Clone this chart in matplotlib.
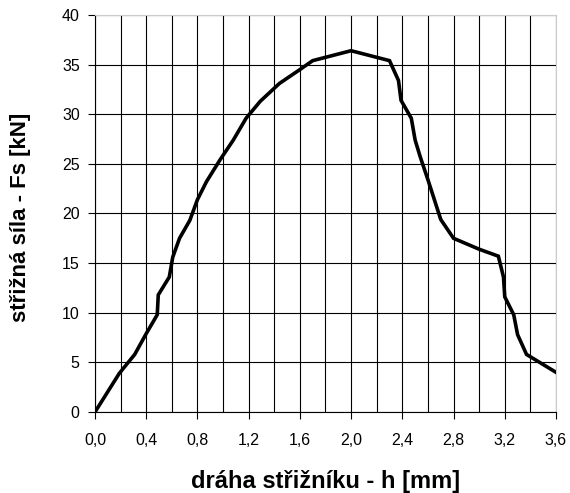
import matplotlib.pyplot as plt
from matplotlib.ticker import MultipleLocator, FuncFormatter

plt.rcParams['font.family'] = ['Liberation Sans', 'DejaVu Sans']

# draha strizniku h [mm] a strizna sila Fs [kN]
h = [0.0, 0.19, 0.31, 0.40, 0.486, 0.494, 0.58, 0.607, 0.66, 0.74, 0.80, 0.87, 0.976,
     1.08, 1.18, 1.29, 1.44, 1.60, 1.70, 2.00, 2.30, 2.37, 2.39, 2.47, 2.50, 2.54, 2.60,
     2.70, 2.80, 3.00, 3.15, 3.19, 3.20, 3.27, 3.30, 3.37, 3.60]
fs = [0.0, 3.9, 5.8, 7.9, 9.8, 11.8, 13.6, 15.6, 17.5, 19.3, 21.4, 23.2, 25.4,
      27.4, 29.6, 31.3, 33.1, 34.5, 35.4, 36.4, 35.4, 33.4, 31.4, 29.6, 27.4, 25.7, 23.4,
      19.4, 17.5, 16.4, 15.7, 13.6, 11.6, 9.8, 7.8, 5.8, 4.0]

fig = plt.figure(figsize=(5.7, 4.93), dpi=100)
ax = fig.add_axes([0.1667, 0.1643, 0.8087, 0.8053])

ax.plot(h, fs, color='black', lw=2.6, solid_joinstyle='miter', zorder=3)

ax.set_xlim(0, 3.6)
ax.set_ylim(0, 40)
ax.xaxis.set_major_locator(MultipleLocator(0.4))
ax.xaxis.set_minor_locator(MultipleLocator(0.2))
ax.yaxis.set_major_locator(MultipleLocator(5))
ax.xaxis.set_major_formatter(FuncFormatter(lambda v, p: f'{v:.1f}'.replace('.', ',')))

ax.grid(which='both', axis='x', color='black', lw=0.8)
ax.grid(which='major', axis='y', color='black', lw=0.8)
ax.tick_params(which='minor', length=0)
ax.tick_params(which='major', length=5, width=0.8, labelsize=11.5, colors='black')
ax.tick_params(axis='x', pad=10)
ax.tick_params(axis='y', pad=6)

for s in ['top', 'right']:
    ax.spines[s].set_color('#cccccc')
for s in ['left', 'bottom']:
    ax.spines[s].set_color('black')
    ax.spines[s].set_linewidth(0.8)

ax.set_xlabel('dráha střižníku - h [mm]', fontsize=17, fontweight='bold', va='center')
ax.set_ylabel('střižná síla - Fs [kN]', fontsize=16, fontweight='bold', va='center')
ax.xaxis.set_label_coords(0.5, -0.174)
ax.yaxis.set_label_coords(-0.161, 0.489)

fig.savefig('out.png', dpi=100)
